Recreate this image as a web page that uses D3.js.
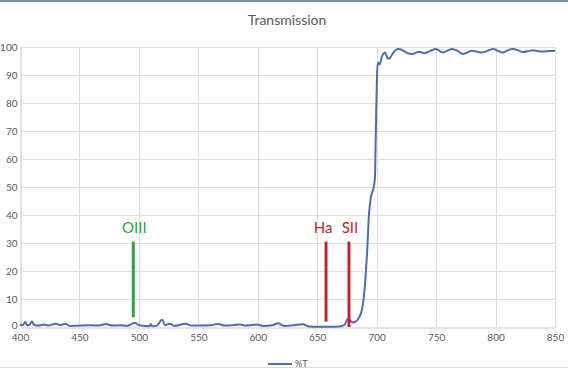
<!DOCTYPE html>
<html>
<head>
<meta charset="utf-8">
<script src="https://cdn.jsdelivr.net/npm/d3@7"></script>
<style>
    body { margin: 0; background: #fff; }
    svg { display: block; font-family: Lato, "Open Sans", sans-serif; }
</style>
</head>
<body>
<svg width="568" height="369"></svg>
<script>
const svg = d3.select("svg");

const width = +svg.attr("width");
const height = +svg.attr("height");

//====== Data ======

const wavelength = [
    400, 402, 404.5, 406, 408, 410, 412, 416, 420, 424, 430, 434, 438, 442, 450,
    460, 466, 472, 478, 485, 490, 496.5, 500, 505, 509, 510, 511, 515, 519.5, 522,
    526, 530, 539, 544, 552, 560, 567, 572, 580, 585, 590, 599, 605, 612, 617,
    622, 630, 638, 642, 650, 660, 670, 673, 675.5, 677, 680, 682, 685, 687.5, 689,
    690.5, 692, 693.5, 695, 697, 698.5, 699.3, 700.3, 701, 702.5, 704, 707, 709.5,
    711, 714, 718, 722, 726, 730, 735.5, 740.5, 745, 750, 755.5, 759, 763.5, 768,
    772.5, 776, 780, 784, 788.5, 793, 798, 802, 806.3, 810, 814.7, 819, 823, 827,
    831.5, 836, 840, 845, 850
];

const transmission = [
    1.0, 0.6, 1.8, 0.6, 0.8, 2.0, 0.7, 0.5, 0.9, 0.5, 1.2, 0.6, 1.2, 0.4, 0.5,
    0.6, 0.5, 1.1, 0.5, 0.6, 0.4, 1.5, 0.6, 0.4, 0.3, 1.1, 0.3, 0.5, 2.6, 0.6,
    1.2, 0.4, 1.2, 0.5, 0.5, 0.6, 1.1, 0.5, 0.7, 0.9, 0.5, 0.9, 0.4, 0.6, 1.3,
    0.4, 0.6, 1.0, 0.3, 0.1, 0.1, 0.3, 0.8, 2.8, 2.6, 1.6, 1.8, 3.3, 6, 10,
    17, 27, 40, 46, 49, 53, 70, 90, 94.5, 93.8, 96, 98, 95.8,
    96, 98, 99.3, 98.8, 97.8, 97.5, 98.3, 97.8, 98.6, 99.3, 98, 98.6, 99.3, 98.6,
    97.5, 98, 98.7, 98.4, 98, 98.6, 99.3, 98.6, 98, 98.8, 99.3, 98.8, 98.2, 98.5,
    98.8, 98.5, 98.4, 98.6, 98.7
];

// emission lines drawn on top of the curve
const lineNames = ["OIII", "Ha", "SII"];
const lineWavelength = [495.3, 657.4, 676.7];
const lineTop = [30.5, 30.5, 30.5];
const lineBottom = [3.5, 1.9, 0];
const lineColors = ["#2e9f45", "#bf2430", "#bf2430"];

const xTicks = [400, 450, 500, 550, 600, 650, 700, 750, 800, 850];
const yTicks = [0, 10, 20, 30, 40, 50, 60, 70, 80, 90, 100];

const points = wavelength.map(function(w, i) {
    return {x: w, y: transmission[i]};
});

//====== Scales ======

const x = d3.scaleLinear()
    .domain([400, 850])
    .range([20, 555]);

const y = d3.scaleLinear()
    .domain([0, 100])
    .range([327, 47]);

//====== Frame ======

svg.append("rect")
    .attr("x", 0).attr("y", 0)
    .attr("width", width).attr("height", 2)
    .attr("fill", "#7d90aa");

svg.append("line")
    .attr("x1", 0).attr("x2", width)
    .attr("y1", 367.5).attr("y2", 367.5)
    .attr("stroke", "#dcdcdc");

svg.append("text")
    .attr("x", 287)
    .attr("y", 25)
    .attr("text-anchor", "middle")
    .attr("font-size", 14)
    .attr("fill", "#595959")
    .text("Transmission");

//====== Grid and axes ======

const grid = svg.append("g");

grid.selectAll("line.h")
    .data(yTicks.slice(1))
    .enter().append("line")
        .attr("class", "h")
        .attr("x1", x(400)).attr("x2", x(850))
        .attr("y1", function(d) { return Math.round(y(d)) + 0.5 })
        .attr("y2", function(d) { return Math.round(y(d)) + 0.5 })
        .attr("stroke", "#dedede");

grid.selectAll("line.v")
    .data(xTicks.slice(1))
    .enter().append("line")
        .attr("class", "v")
        .attr("x1", function(d) { return Math.round(x(d)) + 0.5 })
        .attr("x2", function(d) { return Math.round(x(d)) + 0.5 })
        .attr("y1", y(100)).attr("y2", y(0))
        .attr("stroke", "#dedede");

const xAxis = svg.append("g")
    .attr("transform", "translate(0," + (y(0) + 0.5) + ")")
    .call(d3.axisBottom(x).tickValues(xTicks).tickSize(0).tickPadding(6));

const yAxis = svg.append("g")
    .attr("transform", "translate(" + (x(400) + 0.5) + ",0)")
    .call(d3.axisLeft(y).tickValues(yTicks).tickSize(0).tickPadding(3));

[xAxis, yAxis].forEach(function(a) {
    a.select(".domain").attr("stroke", "#c8c8c8");
    a.selectAll("text")
        .attr("font-family", "Lato, sans-serif")
        .attr("font-size", 10)
        .attr("fill", "#595959");
});

// lift the 0 a touch so it clears the 400 below it
yAxis.selectAll(".tick text")
    .filter(function(d) { return d === 0 })
    .attr("dy", "0.1em");

//====== Curve ======

const line = d3.line()
    .x(function(d) { return x(d.x) })
    .y(function(d) { return y(d.y) })
    .curve(d3.curveMonotoneX);

svg.append("path")
    .datum(points)
    .attr("d", line)
    .attr("fill", "none")
    .attr("stroke", "#4d6ea8")
    .attr("stroke-width", 2);

//====== Emission lines ======

const marks = svg.append("g")
    .selectAll("g")
    .data(lineNames)
    .enter().append("g");

marks.append("line")
    .attr("x1", function(d, i) { return x(lineWavelength[i]) })
    .attr("x2", function(d, i) { return x(lineWavelength[i]) })
    .attr("y1", function(d, i) { return y(lineTop[i]) })
    .attr("y2", function(d, i) { return y(lineBottom[i]) })
    .attr("stroke", function(d, i) { return lineColors[i] })
    .attr("stroke-width", 3);

marks.append("text")
    .attr("x", function(d, i) { return x(lineWavelength[i]) + (i == 1 ? -3 : 1) })
    .attr("y", 233)
    .attr("text-anchor", "middle")
    .attr("font-size", 15)
    .attr("fill", function(d, i) { return lineColors[i] })
    .text(function(d) { return d });

//====== Legend ======

const legend = svg.append("g");

legend.append("line")
    .attr("x1", 268).attr("x2", 292)
    .attr("y1", 364).attr("y2", 364)
    .attr("stroke", "#4d6ea8")
    .attr("stroke-width", 2);

legend.append("text")
    .attr("x", 295)
    .attr("y", 367)
    .attr("font-size", 9)
    .attr("fill", "#595959")
    .text("%T");
</script>
</body>
</html>
